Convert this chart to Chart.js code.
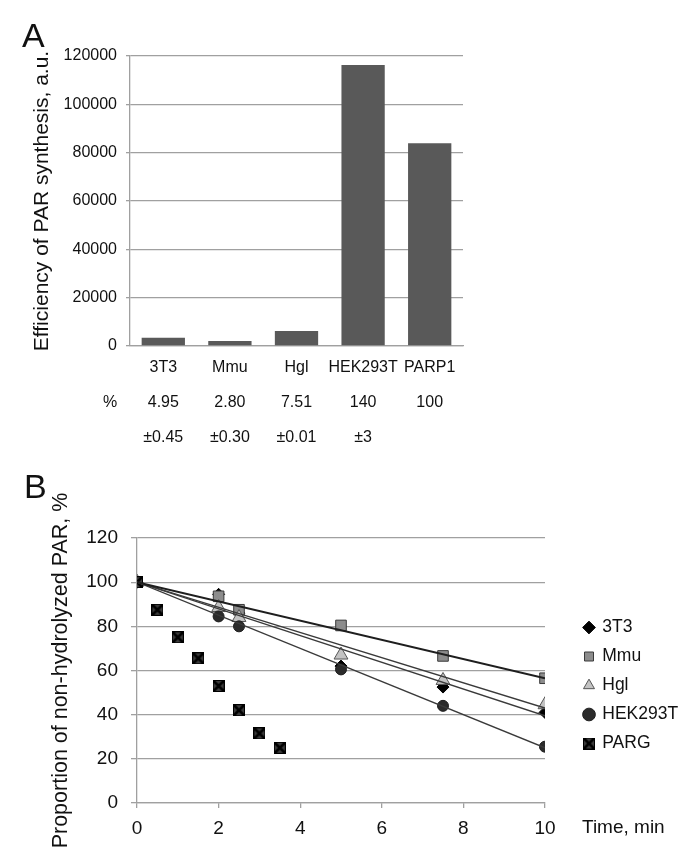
<!DOCTYPE html>
<html>
<head>
<meta charset="utf-8">
<script src="https://cdn.jsdelivr.net/npm/chart.js@4.4.1/dist/chart.umd.min.js"></script>
<style>
  body { margin: 0; background: #fff; }
  #chartA { position: absolute; left: 0; top: 0; }
  #chartB { position: absolute; left: 0; top: 460px; }
</style>
</head>
<body>
<canvas id="chartA" width="690" height="460"></canvas>
<canvas id="chartB" width="690" height="406"></canvas>
<script>
// painel A - eficiencia de sintese de PAR
const celulas = ['3T3', 'Mmu', 'Hgl', 'HEK293T', 'PARP1'];
const eficiencia = [3450, 2070, 6200, 116300, 83900];
const percentual = ['4.95', '2.80', '7.51', '140', '100'];
const desvio = ['±0.45', '±0.30', '±0.01', '±3', ''];
const ticksA = [0, 20000, 40000, 60000, 80000, 100000, 120000];

// painel B - hidrolise de PAR ao longo do tempo (min)
const tempo = [0, 2, 2.5, 5, 7.5, 10];
const val3T3 = [100, 94.5, 86, 62, 52.5, 41];
const valMmu = [100, 93.6, 87.5, 80.4, 66.6, 56.5];
const valHgl = [100, 88.5, 84, 67, 55.5, 44.5];
const valHEK = [100, 84.5, 80, 60.5, 44, 25.5];
const tempoPARG = [0, 0.5, 1, 1.5, 2, 2.5, 3, 3.5];
const valPARG = [100, 87.5, 75, 65.5, 53, 42, 31.5, 25];
const tempoTend = [0, 10];
const tend3T3 = [100, 39.5];
const tendMmu = [100, 56.5];
const tendHgl = [100, 43];
const tendHEK = [100, 25];

const pares = (xs, ys) => xs.map((x, i) => ({ x: x, y: ys[i] }));

// fonte estreita se existir
function temFonte(nome) {
    const c = document.createElement('canvas').getContext('2d');
    c.font = '40px monospace';
    const base = c.measureText('HEK293T Mmu').width;
    c.font = '40px "' + nome + '", monospace';
    return c.measureText('HEK293T Mmu').width !== base;
}
const estreita = temFonte('Liberation Sans Narrow');
const fonteA = estreita ? "'Liberation Sans Narrow', 'Liberation Sans'" : "'Liberation Sans'";
const tamA = estreita ? 19 : 16;
const fonte = "'Liberation Sans', Arial, sans-serif";
const cinza = '#a0a0a0';

function textos(lista) {
    return {
        id: 'textos',
        afterDraw(chart) {
            const ctx = chart.ctx;
            ctx.save();
            ctx.fillStyle = '#111';
            lista.forEach(t => {
                ctx.font = t.font;
                ctx.textBaseline = t.base || 'alphabetic';
                ctx.textAlign = t.align || 'left';
                ctx.fillText(t.text, t.x, t.y);
            });
            ctx.restore();
        }
    };
}

// PLOT A
const ctxA = document.getElementById('chartA').getContext('2d');
new Chart(ctxA, {
    type: 'bar',
    data: {
        labels: celulas.map((c, i) => [c, percentual[i], desvio[i]]),
        datasets: [{
            label: 'Efficiency',
            data: eficiencia,
            backgroundColor: '#595959',
            borderWidth: 0,
            barPercentage: 0.65,
            categoryPercentage: 1
        }]
    },
    options: {
        responsive: false,
        animation: false,
        devicePixelRatio: 1,
        layout: { padding: { left: 0, top: 56, right: 227, bottom: 0 } },
        plugins: { legend: { display: false }, tooltip: { enabled: false } },
        scales: {
            x: {
                grid: { display: false, drawTicks: false },
                border: { display: true, color: cinza, width: 1.3 },
                ticks: { color: '#111', padding: 4, maxRotation: 0, autoSkip: false,
                         font: { family: fonteA, size: tamA, lineHeight: 35 / tamA } },
                afterFit: s => { s.height = 114; }
            },
            y: {
                min: 0, max: 120000,
                afterBuildTicks: s => { s.ticks = ticksA.map(v => ({ value: v })); },
                grid: { color: cinza, lineWidth: 1.3, tickLength: 4 },
                border: { color: cinza, width: 1.3 },
                ticks: { color: '#111', padding: 9, font: { family: fonteA, size: tamA },
                         callback: v => String(v) },
                title: {
                    display: true,
                    text: 'Efficiency of PAR synthesis, a.u.',
                    color: '#111',
                    font: { family: fonte, size: 21 },
                    padding: { top: 30, bottom: 0 }
                },
                afterFit: s => { s.width = 130; }
            }
        }
    },
    plugins: [textos([
        { text: 'A', x: 22, y: 47, font: '34px ' + fonte },
        { text: '%', x: 110, y: 403, font: tamA + 'px ' + fonteA, align: 'center', base: 'middle' }
    ])]
});

// marcador do PARG: quadrado escuro com X
function marcaPARG(lado) {
    const c = document.createElement('canvas');
    c.width = c.height = lado;
    const g = c.getContext('2d');
    g.fillStyle = '#3c3c3c';
    g.fillRect(0, 0, lado, lado);
    g.strokeStyle = '#000';
    g.lineWidth = 2.6;
    g.beginPath();
    g.moveTo(1, 1); g.lineTo(lado - 1, lado - 1);
    g.moveTo(lado - 1, 1); g.lineTo(1, lado - 1);
    g.stroke();
    g.lineWidth = 1;
    g.strokeRect(0.5, 0.5, lado - 1, lado - 1);
    return c;
}

function tendencia(nome, ys, cor, largura) {
    return {
        label: nome,
        data: pares(tempoTend, ys),
        showLine: true, pointRadius: 0,
        borderColor: cor, borderWidth: largura
    };
}

function serie(nome, xs, ys, estilo, raio, fundo, borda) {
    return {
        label: nome,
        data: pares(xs, ys),
        showLine: false,
        pointStyle: estilo, pointRadius: raio,
        pointBackgroundColor: fundo, pointBorderColor: borda, pointBorderWidth: 1,
        backgroundColor: fundo, borderColor: borda, borderWidth: 1
    };
}

// PLOT B (indice 0 desenhado por cima)
const ctxB = document.getElementById('chartB').getContext('2d');
new Chart(ctxB, {
    type: 'scatter',
    data: {
        datasets: [
            tendencia('tMmu', tendMmu, '#1e1e1e', 2),
            tendencia('t3T3', tend3T3, '#3a3a3a', 1.3),
            tendencia('tHgl', tendHgl, '#3a3a3a', 1.3),
            tendencia('tHEK', tendHEK, '#3a3a3a', 1.3),
            serie('PARG', tempoPARG, valPARG, marcaPARG(12), 6, '#3c3c3c', '#000'),
            serie('HEK293T', tempo, valHEK, 'circle', 5.5, '#2b2b2b', '#1e1e1e'),
            serie('Hgl', tempo, valHgl, 'triangle', 8, '#c3c3c3', '#555'),
            serie('Mmu', tempo, valMmu, 'rect', 7.5, '#8c8c8c', '#3a3a3a'),
            serie('3T3', tempo, val3T3, 'rectRot', 6, '#000', '#000')
        ]
    },
    options: {
        responsive: false,
        animation: false,
        devicePixelRatio: 1,
        layout: { padding: { left: 0, top: 78, right: 35, bottom: 0 } },
        plugins: {
            tooltip: { enabled: false },
            legend: {
                position: 'right',
                fullSize: false,
                reverse: true,
                maxWidth: 110,
                labels: {
                    filter: item => !item.text.startsWith('t'),
                    usePointStyle: true,
                    boxWidth: 9, boxHeight: 9,
                    padding: 11.5,
                    color: '#111',
                    font: { family: fonte, size: 17.5 }
                }
            }
        },
        scales: {
            x: {
                type: 'linear', min: 0, max: 10,
                ticks: { stepSize: 2, color: '#111', padding: 9, font: { family: fonte, size: 19 } },
                grid: { color: cinza, lineWidth: 1.3, drawOnChartArea: false, tickLength: 5 },
                border: { color: cinza, width: 1.3 },
                afterFit: s => { s.height = 63; }
            },
            y: {
                min: 0, max: 120,
                ticks: { stepSize: 20, color: '#111', padding: 13, font: { family: fonte, size: 19 } },
                grid: { color: cinza, lineWidth: 1.3, tickLength: 6 },
                border: { color: cinza, width: 1.3 },
                title: {
                    display: true,
                    text: 'Proportion of non-hydrolyzed PAR, %',
                    color: '#111',
                    font: { family: fonte, size: 21.5 },
                    padding: { top: 48, bottom: 0 }
                },
                afterFit: s => { s.width = 137; }
            }
        }
    },
    plugins: [
        {
            id: 'posLegenda',
            afterLayout(chart) {
                const lg = chart.legend;
                const dx = 573 - lg.left, dy = 15;
                lg.left += dx; lg.right += dx;
                lg.top += dy; lg.bottom += dy;
            }
        },
        textos([
            { text: 'B', x: 24, y: 38, font: '34px ' + fonte },
            { text: 'Time, min', x: 582, y: 368, font: '19px ' + fonte, base: 'middle' }
        ])
    ]
});
</script>
</body>
</html>
